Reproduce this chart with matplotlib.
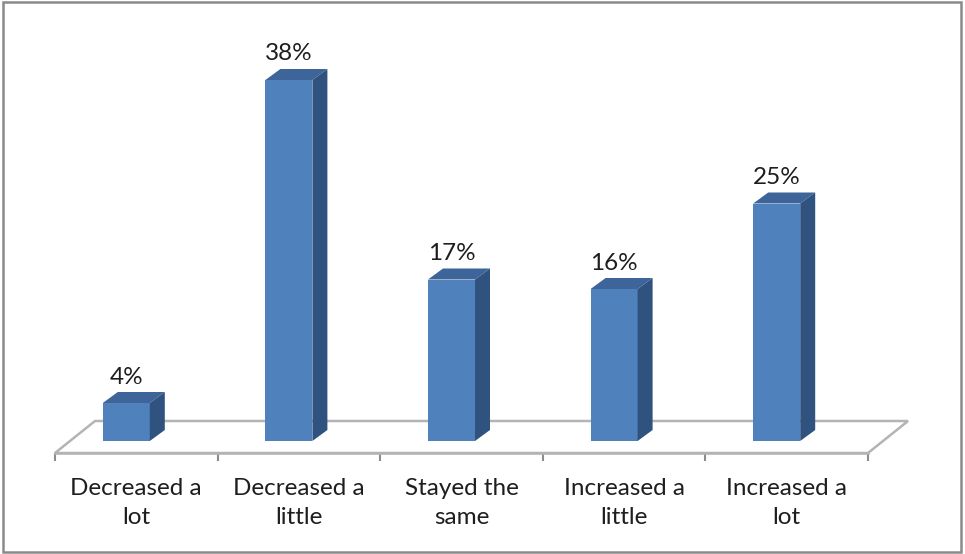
import matplotlib.pyplot as plt
from matplotlib.patches import Polygon, Rectangle

# Données du graphique
categories = ["Decreased a\nlot", "Decreased a\nlittle", "Stayed the\nsame",
              "Increased a\nlittle", "Increased a\nlot"]
values = [4, 38, 17, 16, 25]
labels = ["4%", "38%", "17%", "16%", "25%"]

# Couleurs façon Excel 2007
front_color = "#4F81BD"
top_color = "#3D659A"
side_color = "#30527E"
floor_color = "#B4B4B4"

W, H = 965, 554
fig = plt.figure(figsize=(W / 100, H / 100), dpi=100)
plt.rcParams["font.family"] = ["Lato", "DejaVu Sans"]

# Zone de tracé en pixels : le bord avant du sol sert d'axe des x
left_px, right_px, bottom_px, top_px = 55, 868, 453, 15
px_per_pct = 9.5
floor_front = -12 / px_per_pct          # le sol est 12 px sous la base des barres
ax = fig.add_axes([left_px / W, 1 - bottom_px / H,
                   (right_px - left_px) / W, (bottom_px - top_px) / H])
ax.set_xlim(-0.5, len(categories) - 0.5)
ax.set_ylim(floor_front, floor_front + (bottom_px - top_px) / px_per_pct)

px_x = len(categories) / (right_px - left_px)   # unités de catégorie par pixel
px_y = 1 / px_per_pct                            # % par pixel

# Sol en perspective
fdx, fdy = 40 * px_x, 32 * px_y
x0, x1 = -0.5, len(categories) - 0.5
floor = Polygon([(x0, floor_front), (x1, floor_front),
                 (x1 + fdx, floor_front + fdy), (x0 + fdx, floor_front + fdy)],
                closed=True, facecolor="white", edgecolor=floor_color, lw=1.8,
                clip_on=False, zorder=1)
ax.add_patch(floor)

# Barres 3D : face avant + dessus + côté
bw = 47 * px_x
shift = -10 * px_x
bdx, bdy = 15 * px_x, 11 * px_y
for i, v in enumerate(values):
    xc = i + shift
    xl, xr = xc - bw / 2, xc + bw / 2
    ax.bar(xc, v, width=bw, color=front_color, zorder=3, clip_on=False)
    top = Polygon([(xl, v), (xr, v), (xr + bdx, v + bdy), (xl + bdx, v + bdy)],
                  closed=True, facecolor=top_color, edgecolor="none",
                  zorder=3, clip_on=False)
    side = Polygon([(xr, 0), (xr + bdx, bdy), (xr + bdx, v + bdy), (xr, v)],
                   closed=True, facecolor=side_color, edgecolor="none",
                   zorder=3, clip_on=False)
    ax.add_patch(top)
    ax.add_patch(side)
    ax.text(xc, v + bdy + 15 * px_y, labels[i], ha="center", va="center",
            fontsize=17.5, color="#1E1E1E", zorder=4)

# Axe des x
for s in ["top", "left", "right"]:
    ax.spines[s].set_visible(False)
ax.spines["bottom"].set_color(floor_color)
ax.spines["bottom"].set_linewidth(1.8)
ax.set_yticks([])
ax.set_xticks(range(len(categories)))
ax.set_xticklabels(categories, fontsize=17.5, color="#1E1E1E", linespacing=1.45)
ax.tick_params(axis="x", which="major", length=0, pad=18)
ax.set_xticks([i - 0.5 for i in range(len(categories) + 1)], minor=True)
ax.tick_params(axis="x", which="minor", length=6, width=1.5, color="#8C8C8C")
ax.patch.set_alpha(0)

# Cadre autour de l'image
fig.patches.append(Rectangle((3 / W, 2 / H), 1 - 7 / W, 1 - 4 / H,
                             transform=fig.transFigure, fill=False,
                             edgecolor="#8A8A8A", lw=1.8))

fig.savefig("out.png", dpi=100)
